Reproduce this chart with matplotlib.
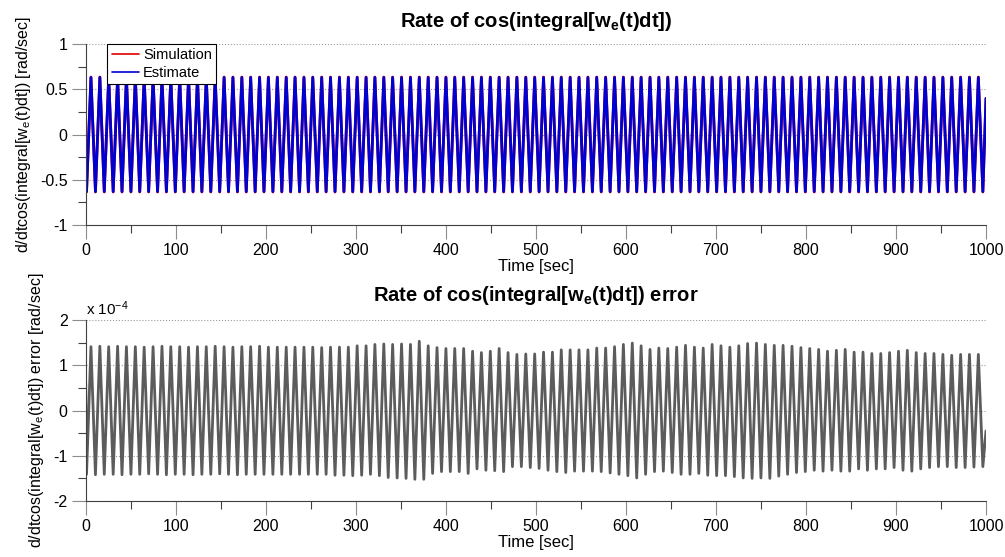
import matplotlib
matplotlib.use("Agg")
import matplotlib.pyplot as plt
from matplotlib.ticker import MultipleLocator, FuncFormatter

# Zeitpunkte der Maxima / Minima [s]
peak_t = [5.8, 15.7, 25.5, 35.4, 45.2, 55.1, 64.9, 74.8, 84.7, 94.5,
          104.4, 114.2, 124.1, 133.9, 143.8, 153.7, 163.5, 173.4, 183.2, 193.1,
          202.9, 212.8, 222.7, 232.5, 242.4, 252.2, 262.1, 271.9, 281.8, 291.7,
          301.5, 311.4, 321.2, 331.1, 340.9, 350.8, 360.7, 370.5, 380.4, 390.2,
          400.1, 409.9, 419.8, 429.7, 439.5, 449.4, 459.2, 469.1, 478.9, 488.8,
          498.7, 508.5, 518.4, 528.2, 538.1, 547.9, 557.8, 567.6, 577.5, 587.4,
          597.2, 607.1, 616.9, 626.8, 636.6, 646.5, 656.4, 666.2, 676.1, 685.9,
          695.8, 705.6, 715.5, 725.4, 735.2, 745.1, 754.9, 764.8, 774.6, 784.5,
          794.4, 804.2, 814.1, 823.9, 833.8, 843.6, 853.5, 863.4, 873.2, 883.1,
          892.9, 902.8, 912.6, 922.5, 932.4, 942.2, 952.1, 961.9, 971.8, 981.6,
          991.5]
trough_t = [0.9, 10.8, 20.6, 30.5, 40.3, 50.2, 60.0, 69.9, 79.8, 89.6,
            99.5, 109.3, 119.2, 129.0, 138.9, 148.8, 158.6, 168.5, 178.3, 188.2,
            198.0, 207.9, 217.8, 227.6, 237.5, 247.3, 257.2, 267.0, 276.9, 286.8,
            296.6, 306.5, 316.3, 326.2, 336.0, 345.9, 355.8, 365.6, 375.5, 385.3,
            395.2, 405.0, 414.9, 424.8, 434.6, 444.5, 454.3, 464.2, 474.0, 483.9,
            493.8, 503.6, 513.5, 523.3, 533.2, 543.0, 552.9, 562.8, 572.6, 582.5,
            592.3, 602.2, 612.0, 621.9, 631.8, 641.6, 651.5, 661.3, 671.2, 681.0,
            690.9, 700.8, 710.6, 720.5, 730.3, 740.2, 750.0, 759.9, 769.8, 779.6,
            789.5, 799.3, 809.2, 819.0, 828.9, 838.8, 848.6, 858.5, 868.3, 878.2,
            888.0, 897.9, 907.8, 917.6, 927.5, 937.3, 947.2, 957.0, 966.9, 976.8,
            986.6, 996.5]

# oberes Bild: Simulation / Schaetzung [rad/s]
sim_peak, sim_trough = 0.635, -0.635
est_peak, est_trough = 0.63, -0.63
top_start, top_end = -0.30, 0.40

# unteres Bild: Fehler [1e-4 rad/s]
err_peak = [1.41, 1.42, 1.41, 1.42, 1.41, 1.41, 1.40, 1.41, 1.42, 1.41,
            1.41, 1.40, 1.41, 1.41, 1.42, 1.41, 1.40, 1.41, 1.41, 1.42,
            1.40, 1.40, 1.40, 1.40, 1.40, 1.40, 1.39, 1.40, 1.40, 1.40,
            1.43, 1.43, 1.46, 1.47, 1.46, 1.47, 1.46, 1.53, 1.43, 1.39,
            1.37, 1.37, 1.37, 1.31, 1.28, 1.31, 1.37, 1.28, 1.24, 1.25,
            1.25, 1.29, 1.29, 1.34, 1.34, 1.34, 1.34, 1.38, 1.38, 1.41,
            1.46, 1.49, 1.43, 1.35, 1.38, 1.37, 1.40, 1.44, 1.40, 1.38,
            1.46, 1.43, 1.40, 1.43, 1.48, 1.49, 1.46, 1.44, 1.44, 1.42,
            1.39, 1.37, 1.35, 1.31, 1.33, 1.35, 1.29, 1.29, 1.26, 1.26,
            1.28, 1.31, 1.33, 1.28, 1.26, 1.26, 1.24, 1.22, 1.24, 1.24,
            1.24]
err_trough = [-1.41, -1.42, -1.41, -1.41, -1.42, -1.41, -1.41, -1.40, -1.41, -1.42,
              -1.41, -1.41, -1.42, -1.41, -1.41, -1.40, -1.41, -1.42, -1.41, -1.41,
              -1.41, -1.41, -1.41, -1.41, -1.41, -1.41, -1.41, -1.41, -1.43, -1.43,
              -1.44, -1.43, -1.41, -1.44, -1.48, -1.49, -1.50, -1.52, -1.52, -1.39,
              -1.35, -1.35, -1.35, -1.39, -1.29, -1.32, -1.33, -1.35, -1.24, -1.24,
              -1.26, -1.28, -1.32, -1.35, -1.37, -1.34, -1.34, -1.34, -1.35, -1.38,
              -1.41, -1.44, -1.49, -1.41, -1.35, -1.34, -1.37, -1.41, -1.41, -1.39,
              -1.43, -1.44, -1.44, -1.46, -1.49, -1.50, -1.49, -1.50, -1.45, -1.41,
              -1.37, -1.35, -1.32, -1.34, -1.32, -1.34, -1.34, -1.29, -1.32, -1.29,
              -1.29, -1.26, -1.32, -1.34, -1.29, -1.26, -1.24, -1.24, -1.26, -1.26,
              -1.25, -1.24]
err_start, err_end = 0.6, -0.45


def series(start, peaks, troughs, end):
    t, v = [0.0], [start]
    for i in range(len(trough_t)):
        t.append(trough_t[i])
        v.append(troughs[i])
        if i < len(peak_t):
            t.append(peak_t[i])
            v.append(peaks[i])
    t.append(1000.0)
    v.append(end)
    return t, v


plt.rcParams['font.family'] = ['Liberation Sans', 'DejaVu Sans']
plt.rcParams['axes.unicode_minus'] = False
plt.rcParams['mathtext.fontset'] = 'custom'
plt.rcParams['mathtext.rm'] = 'Liberation Sans'
plt.rcParams['mathtext.it'] = 'Liberation Sans'
plt.rcParams['mathtext.bf'] = 'Liberation Sans:bold'


def style(ax, ymaj, ymin):
    ax.set_xlim(0, 1000)
    ax.xaxis.set_major_locator(MultipleLocator(100))
    ax.xaxis.set_minor_locator(MultipleLocator(50))
    ax.yaxis.set_major_locator(MultipleLocator(ymaj))
    ax.yaxis.set_minor_locator(MultipleLocator(ymin))
    ax.yaxis.set_major_formatter(FuncFormatter(lambda v, p: f"{v:g}"))
    for s in ['top', 'right']:
        ax.spines[s].set_visible(False)
    for s in ['left', 'bottom']:
        ax.spines[s].set_color('#404040')
        ax.spines[s].set_linewidth(0.8)
    ax.tick_params(which='major', direction='out', length=10, width=0.8,
                   color='#8c8c8c', labelsize=11.5, pad=3)
    ax.tick_params(which='minor', direction='out', length=6, width=0.8,
                   color='#404040')
    ax.grid(axis='y', which='major', linestyle=':', color='#9a9a9a', linewidth=0.8)
    ax.set_axisbelow(True)


fig = plt.figure(figsize=(10.05, 5.57), dpi=100)
ax1 = fig.add_axes([0.0853, 0.596, 0.8958, 0.325])
ax2 = fig.add_axes([0.0853, 0.1005, 0.8958, 0.325])

line_kw = dict(linewidth=2.0, solid_joinstyle='round', solid_capstyle='round')

# oben
t_sim, v_sim = series(top_start, [sim_peak] * len(peak_t), [sim_trough] * len(trough_t), top_end)
t_est, v_est = series(top_start, [est_peak] * len(peak_t), [est_trough] * len(trough_t), top_end)
ax1.plot(t_sim, v_sim, color='#e00000', label='Simulation', **line_kw)
ax1.plot(t_est, v_est, color='#0000d0', label='Estimate', **line_kw)
ax1.set_ylim(-1, 1)
style(ax1, 0.5, 0.25)
ax1.set_title('Rate of cos(integral[w$_\\mathregular{e}$(t)dt])', fontsize=14.5,
              fontweight='bold', pad=12)
ax1.set_xlabel('Time [sec]', fontsize=12, labelpad=1)
ax1.set_ylabel('d/dtcos(integral[w$_\\mathregular{e}$(t)dt]) [rad/sec]', fontsize=11.5,
               labelpad=5)
leg = ax1.legend(loc='upper left', bbox_to_anchor=(0.024, 1.0), fontsize=10.5,
                 frameon=True, fancybox=False, edgecolor='black', framealpha=1,
                 handlelength=1.9, handletextpad=0.25, borderpad=0.3,
                 labelspacing=0.25, borderaxespad=0)
leg.get_frame().set_linewidth(0.8)
for h in leg.get_lines():
    h.set_linewidth(1.2)

# unten
t_err, v_err = series(err_start, err_peak, err_trough, err_end)
ax2.plot(t_err, v_err, color='#5c5c5c', **line_kw)
ax2.set_ylim(-2, 2)
style(ax2, 1, 0.5)
ax2.text(0.0, 1.012, 'x 10$^{\\mathregular{-4}}$', transform=ax2.transAxes,
         fontsize=11, ha='left', va='bottom')
ax2.set_title('Rate of cos(integral[w$_\\mathregular{e}$(t)dt]) error', fontsize=14.5,
              fontweight='bold', pad=14)
ax2.set_xlabel('Time [sec]', fontsize=12, labelpad=1)
ax2.set_ylabel('d/dtcos(integral[w$_\\mathregular{e}$(t)dt]) error [rad/sec]',
               fontsize=11.5, labelpad=5)

fig.savefig('out.png', dpi=100)
